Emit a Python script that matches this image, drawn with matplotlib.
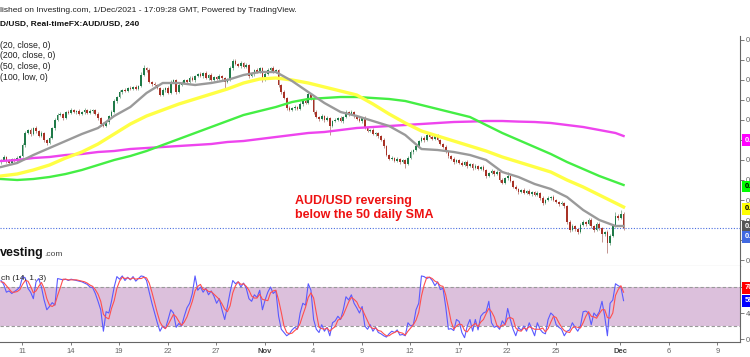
import matplotlib
matplotlib.use('Agg')
import matplotlib.pyplot as plt
import numpy as np
from matplotlib.transforms import blended_transform_factory

plt.rcParams['font.family'] = ['Liberation Sans', 'DejaVu Sans']

# AUD/USD 4h closes, 7 Oct - 1 Dec 2021
closes = [
    .7300, .7308, .7298, .7293, .7303, .7298, .7305, .7310, .7338, .7368,
    .7375, .7365, .7380, .7373, .7360, .7368, .7350, .7343, .7355, .7380,
    .7400, .7413, .7415, .7405, .7420, .7418, .7425, .7420, .7423, .7415,
    .7420, .7425, .7418, .7423, .7425, .7415, .7405, .7390, .7385, .7395,
    .7410, .7420, .7448, .7458, .7470, .7475, .7473, .7480, .7478, .7483,
    .7478, .7485, .7513, .7530, .7525, .7495, .7490, .7488, .7480, .7463,
    .7475, .7480, .7468, .7495, .7500, .7470, .7488, .7493, .7500, .7495,
    .7505, .7500, .7510, .7515, .7510, .7518, .7505, .7513, .7500, .7508,
    .7503, .7510, .7505, .7495, .7500, .7530, .7548, .7540, .7535, .7543,
    .7533, .7538, .7510, .7515, .7525, .7520, .7530, .7500, .7515, .7525,
    .7530, .7520, .7525, .7488, .7470, .7455, .7430, .7425, .7430, .7433,
    .7428, .7440, .7448, .7443, .7465, .7455, .7420, .7408, .7403, .7410,
    .7400, .7405, .7385, .7398, .7400, .7405, .7398, .7408, .7420, .7415,
    .7420, .7410, .7403, .7398, .7405, .7380, .7373, .7375, .7365, .7368,
    .7360, .7350, .7335, .7313, .7303, .7305, .7298, .7303, .7295, .7300,
    .7290, .7305, .7320, .7325, .7335, .7348, .7355, .7350, .7363, .7358,
    .7353, .7360, .7350, .7340, .7333, .7320, .7310, .7303, .7295, .7300,
    .7293, .7288, .7295, .7285, .7290, .7280, .7285, .7278, .7283, .7275,
    .7260, .7268, .7273, .7265, .7270, .7250, .7243, .7255, .7260, .7248,
    .7233, .7228, .7220, .7225, .7218, .7223, .7215, .7220, .7213, .7218,
    .7205, .7193, .7200, .7205, .7208, .7200, .7195, .7190, .7193, .7185,
    .7145, .7125, .7135, .7128, .7120, .7138, .7145, .7140, .7150, .7135,
    .7125, .7140, .7130, .7115, .7120, .7093, .7110, .7135, .7160, .7155,
    .7165, .7130,
]
first_open = 0.7295

# wick lengths above / below the body, in pips
up_wick = [
    3, 4, 2, 5, 3, 2, 4, 3, 5, 4,  3, 5, 2, 4, 3, 5, 3, 2, 4, 3,
    5, 4, 6, 3, 2, 4, 5, 3, 2, 4,  3, 5, 2, 4, 3, 2, 5, 3, 4, 2,
    3, 6, 4, 3, 5, 2, 4, 3, 5, 2,  4, 3, 6, 8, 2, 5, 3, 4, 3, 2,
    5, 3, 4, 6, 2, 3, 5, 4, 2, 3,  4, 5, 3, 2, 4, 3, 5, 2, 4, 3,
    2, 4, 3, 2, 5, 4, 5, 4, 2, 5,  3, 4, 2, 5, 3, 4, 2, 3, 5, 4,
    3, 4, 2, 3, 2, 4, 3, 5, 2, 4,  3, 5, 2, 6, 4, 3, 2, 4, 3, 5,
    2, 4, 3, 2, 5, 3, 4, 2, 5, 3,  4, 2, 3, 5, 2, 4, 3, 2, 4, 3,
    2, 3, 4, 2, 3, 5, 2, 4, 3, 2,  3, 4, 5, 2, 4, 3, 5, 4, 6, 3,
    4, 3, 5, 2, 3, 4, 2, 3, 5, 3,  2, 4, 3, 5, 2, 3, 4, 2, 3, 4,
    3, 2, 4, 3, 5, 2, 4, 3, 10, 2, 3, 4, 2, 3, 5, 2, 4, 3, 2, 4,
    3, 5, 2, 4, 3, 5, 2, 3, 4, 2,  3, 4, 6, 3, 2, 5, 4, 3, 6, 4,
    3, 5, 4, 2, 3, 4, 5, 6, 10, 5, 10, 4,
]
down_wick = [
    4, 3, 5, 2, 4, 3, 2, 4, 3, 5,  2, 4, 3, 5, 3, 2, 4, 5, 3, 2,
    4, 3, 2, 5, 3, 4, 2, 3, 5, 3,  2, 4, 3, 2, 5, 3, 4, 5, 3, 2,
    4, 3, 2, 5, 3, 4, 2, 3, 4, 3,  2, 4, 3, 2, 5, 3, 4, 3, 2, 4,
    3, 5, 2, 4, 3, 5, 3, 2, 4, 3,  2, 3, 4, 2, 3, 5, 2, 4, 3, 2,
    4, 3, 5, 15, 3, 2, 4, 3, 2, 4, 3, 2, 4, 3, 5, 2, 3, 4, 2, 3,
    4, 2, 3, 5, 4, 3, 5, 3, 2, 4,  3, 2, 4, 3, 2, 5, 4, 3, 5, 3,
    4, 3, 22, 3, 4, 2, 3, 5, 2, 4, 3, 4, 2, 3, 5, 3, 4, 2, 3, 5,
    4, 3, 5, 4, 3, 2, 4, 3, 5, 3,  10, 3, 2, 4, 3, 2, 3, 4, 2, 3,
    2, 4, 3, 2, 4, 3, 5, 3, 4, 2,  4, 3, 2, 5, 3, 4, 3, 2, 4, 3,
    4, 3, 2, 4, 3, 5, 3, 2, 4, 3,  3, 2, 4, 3, 2, 4, 3, 5, 2, 3,
    4, 6, 3, 2, 4, 3, 2, 4, 3, 5,  4, 6, 3, 5, 4, 3, 2, 4, 3, 5,
    4, 3, 5, 20, 4, 25, 5, 3, 2, 4, 3, 4,
]

# moving averages, one reading per day (every 6 bars) plus the last bar
ma_bars = list(range(0, 229, 6)) + [231]
sma20 = [.72825, .72925, .73125, .7330, .73475, .7365, .7380, .7410, .74325, .74675,
         .74925, .74925, .74875, .74925, .7500, .75125, .7520, .7520, .74975, .7470,
         .74425, .7420, .7410, .73975, .7385, .73625, .73275, .7325, .7320, .73125,
         .7300, .7270, .72575, .7240, .72275, .72075, .7175, .7150, .7135, .7135]
sma50 = [.7260, .7265, .7275, .72875, .7305, .7320, .7340, .7365, .7390, .7410,
         .7425, .7440, .74525, .7465, .74775, .74925, .75025, .7505, .7500, .74925,
         .74825, .74725, .74625, .7440, .7415, .73925, .73725, .7360, .73475, .7335,
         .73225, .73075, .7295, .72825, .7270, .7250, .72325, .72125, .71925, .71825]
sma100_low = [.72525, .7250, .72525, .72575, .7265, .7275, .72875, .7300, .7310, .73225,
              .73375, .73525, .73675, .73825, .73975, .74125, .74225, .74325, .7445, .74525,
              .7455, .74575, .74575, .7455, .74525, .74475, .74375, .74275, .74175, .74075,
              .73875, .73675, .7350, .73325, .7315, .7295, .72775, .7260, .7245, .72375]
sma200 = [.72975, .7300, .7305, .73075, .73125, .7315, .7320, .73225, .73275, .7330,
          .73325, .7335, .73375, .7340, .7345, .73475, .73525, .73575, .73625, .73675,
          .7370, .7375, .7380, .73825, .7385, .73875, .7390, .73925, .7395, .7396,
          .73975, .73975, .7396, .7395, .73925, .73875, .73825, .7375, .73675, .7360]

# stochastic (14, 1, 3)
stoch_k = [
    90, 84, 72, 74, 70, 73, 76, 80, 96, 94,  78, 72, 62, 88, 93, 80, 60, 45, 50, 56,
    52, 93, 92, 91, 92, 90, 92, 91, 90, 89,  88, 86, 84, 80, 79, 70, 58, 45, 12, 42,
    40, 58, 80, 96, 92, 97, 90, 95, 91, 96,  89, 93, 97, 96, 90, 72, 55, 40, 25, 12,
    20, 16, 30, 45, 40, 18, 24, 20, 35, 48,  55, 70, 97, 75, 80, 72, 78, 68, 74, 66,
    55, 62, 45, 30, 50, 72, 90, 85, 88, 80,  86, 78, 62, 58, 68, 64, 75, 45, 60, 72,
    80, 70, 74, 35, 15, 10, 5, 8, 14, 18,    15, 40, 55, 52, 85, 75, 30, 15, 10, 22,
    12, 18, 5, 25, 28, 35, 30, 45, 65, 60,   68, 55, 48, 40, 50, 20, 15, 22, 12, 18,
    10, 8, 5, 3, 8, 12, 10, 14, 6, 7,        5, 25, 20, 22, 45, 55, 97, 96, 93, 95,
    90, 82, 88, 76, 78, 50, 15, 16, 13, 30,  27, 10, 2, 20, 30, 12, 30, 14, 35, 40,
    42, 58, 25, 18, 20, 15, 28, 22, 47, 30,  15, 5, 18, 13, 20, 12, 25, 15, 5, 25,
    15, 10, 8, 30, 40, 36, 22, 18, 15, 5,    12, 14, 25, 18, 12, 20, 42, 43, 40, 22,
    40, 35, 42, 58, 35, 5, 55, 60, 85, 82,   80, 59,
]
stoch_d = [
    88, 87, 82, 77, 72, 72, 73, 76, 84, 90,  89, 81, 71, 74, 81, 87, 78, 62, 52, 50,
    53, 67, 79, 92, 92, 91, 91, 91, 91, 90,  89, 88, 86, 83, 81, 76, 69, 58, 38, 33,
    31, 47, 59, 78, 89, 95, 93, 94, 92, 94,  92, 93, 93, 95, 94, 86, 72, 56, 40, 26,
    19, 16, 22, 30, 38, 34, 27, 21, 26, 34,  46, 58, 74, 81, 84, 76, 77, 73, 73, 69,
    65, 61, 54, 46, 42, 51, 71, 82, 88, 84,  85, 81, 75, 66, 63, 63, 69, 61, 60, 59,
    71, 74, 75, 60, 41, 20, 10, 8, 9, 13,    16, 24, 37, 49, 64, 71, 63, 40, 18, 16,
    15, 17, 12, 16, 19, 29, 31, 37, 47, 57,  64, 61, 57, 48, 46, 37, 28, 19, 16, 17,
    13, 12, 8, 5, 5, 8, 10, 12, 10, 9,       6, 12, 17, 22, 29, 41, 66, 83, 95, 95,
    93, 89, 87, 82, 81, 68, 48, 27, 15, 20,  23, 22, 13, 11, 17, 21, 24, 19, 26, 30,
    39, 47, 42, 34, 21, 18, 21, 22, 32, 33,  31, 17, 13, 12, 17, 15, 19, 17, 15, 15,
    15, 17, 11, 16, 26, 35, 33, 25, 18, 13,  11, 10, 17, 19, 18, 17, 25, 35, 42, 35,
    34, 32, 39, 45, 45, 33, 32, 40, 67, 76,  82, 72,
]

# date axis: label text and trading-day number (11 Oct = 0)
day_labels = ['11', '14', '19', '22', '27', 'Nov', '4', '9', '12', '17', '22', '25', 'Dec', '6', '9']
day_numbers = [0, 3, 6, 9, 12, 15, 18, 21, 24, 27, 30, 33, 37, 40, 43]

# price scale labels (the ones hidden under tags are left blank)
price_ticks = [0.7050, 0.7100, 0.7150, 0.7200, 0.7250, 0.7300,
               0.7350, 0.7400, 0.7450, 0.7500, 0.7550, 0.7600]
price_tick_labels = ['0.7050', '', '0.7150', '0.7200', '0.7250', '0.7300',
                     '', '0.7400', '0.7450', '0.7500', '0.7550', '0.7600']

# price tags on the right scale
tag_levels = [0.7350, 0.72340, 0.71775, 0.71325, 0.71075]
tag_texts = ['0.7360', '0.7238', '0.7183', '0.7135', '0.7130']
tag_colors = ['#ff00ff', '#00ff00', '#ffff00', '#555555', '#4169e1']
tag_text_colors = ['white', 'black', 'black', 'white', 'white']
stoch_tag_levels = [78.5, 58.5]
stoch_tag_texts = ['70.00', '59.00']
stoch_tag_colors = ['#ff0000', '#0000ff']

W, H = 750, 357
fig = plt.figure(figsize=(W / 100, H / 100), dpi=100)
fig.patch.set_facecolor('white')

ax = fig.add_axes([0, 1 - 266 / H, 740 / W, 230 / H])
ax2 = fig.add_axes([0, 1 - 342 / H, 740 / W, 76 / H], sharex=ax)

# candles
closes = np.array(closes)
opens = np.concatenate([[first_open], closes[:-1]])
highs = np.maximum(opens, closes) + np.array(up_wick) * 1e-4
lows = np.minimum(opens, closes) - np.array(down_wick) * 1e-4
x = np.arange(len(closes))
rising = closes >= opens
body_col = np.where(rising, '#1f7a48', '#a83226')
wick_col = np.where(rising, '#8fb7a0', '#c29490')
ax.vlines(x, lows, highs, colors=wick_col, lw=0.7, zorder=2)
ax.bar(x, np.maximum(np.abs(closes - opens), 0.00008), bottom=np.minimum(opens, closes),
       width=0.62, color=body_col, linewidth=0, zorder=3)

# moving averages
ax.plot(ma_bars, sma200, color='#ee44ee', lw=1.7, zorder=4)
ax.plot(ma_bars, sma100_low, color='#44ee44', lw=1.7, zorder=4)
ax.plot(ma_bars, sma50, color='#ffff44', lw=2.4, zorder=4)
ax.plot(ma_bars, sma20, color='#9a9a9a', lw=1.7, zorder=5)

ax.axhline(closes[-1], color='#4a6ee0', ls=(0, (1, 1.5)), lw=0.8, zorder=1)

ax.set_xlim(-0.37, 274.2)
ax.set_ylim(0.7035, 0.7610)
ax.set_yticks(price_ticks)
ax.set_yticklabels(price_tick_labels)
ax.yaxis.tick_right()
ax.tick_params(axis='y', length=3, width=0.6, colors='#666666', labelsize=5.5, pad=1.5)
ax.tick_params(axis='x', bottom=False, labelbottom=False)
for s in ['top', 'left']:
    ax.spines[s].set_visible(False)
ax.spines['right'].set_color('#666666')
ax.spines['bottom'].set_color('#999999')
ax.spines['right'].set_linewidth(0.8)
ax.spines['bottom'].set_linewidth(0.8)

tr = blended_transform_factory(ax.transAxes, ax.transData)
for lv, tx, bg, fg in zip(tag_levels, tag_texts, tag_colors, tag_text_colors):
    ax.text(1.006, lv, tx, transform=tr, fontsize=5.5, fontweight='bold', color=fg, va='center',
            bbox=dict(boxstyle='square,pad=0.3', fc=bg, ec='none'))

# stochastic panel
ax2.axhspan(20, 80, color='#dcc0dc', lw=0, zorder=0)
ax2.axhline(80, color='#999999', lw=0.8, ls=(0, (3, 2)))
ax2.axhline(20, color='#999999', lw=0.8, ls=(0, (3, 2)))
ax2.plot(x, stoch_k, color='#5a5aff', lw=0.8, zorder=3)
ax2.plot(x, stoch_d, color='#ff4f4f', lw=0.8, zorder=3)
ax2.set_ylim(-4.6, 112.3)
ax2.set_yticks([0, 40, 80])
ax2.set_yticklabels(['0.00', '40.00', ''])
ax2.yaxis.tick_right()
ax2.tick_params(axis='y', length=3, width=0.6, colors='#666666', labelsize=5.5, pad=1.5)
tick_pos = [7.8 + 6 * d for d in day_numbers]
ax2.set_xticks(tick_pos)
ax2.set_xticklabels(day_labels)
ax2.tick_params(axis='x', length=2, width=0.6, colors='#666666', labelsize=5.5, pad=2)
for lab in ax2.get_xticklabels():
    if lab.get_text() in ('Nov', 'Dec'):
        lab.set_fontweight('bold')
        lab.set_color('#444444')
for s in ['top', 'left']:
    ax2.spines[s].set_visible(False)
for s in ['right', 'bottom']:
    ax2.spines[s].set_color('#666666')
    ax2.spines[s].set_linewidth(0.8)
ax2.set_xlim(-0.37, 274.2)

tr2 = blended_transform_factory(ax2.transAxes, ax2.transData)
for lv, tx, bg in zip(stoch_tag_levels, stoch_tag_texts, stoch_tag_colors):
    ax2.text(1.006, lv, tx, transform=tr2, fontsize=5.5, fontweight='bold', color='white', va='center',
             bbox=dict(boxstyle='square,pad=0.3', fc=bg, ec='none'))

ax2.text(0.002, 0.83, 'ch (14, 1, 3)', transform=ax2.transAxes,
         fontsize=6, color='#222222', va='center')

# header texts
fig.text(0, 1 - 10 / H, 'lished on Investing.com, 1/Dec/2021 - 17:09:28 GMT, Powered by TradingView.',
         fontsize=6, color='#222222', va='center')
fig.text(0, 1 - 24 / H, 'D/USD, Real-timeFX:AUD/USD, 240', fontsize=6, fontweight='bold',
         color='#111111', va='center')
for k, s in enumerate(['(20, close, 0)', '(200, close, 0)', '(50, close, 0)', '(100, low, 0)']):
    fig.text(0, 1 - (45 + 10.8 * k) / H, s, fontsize=6.3, color='#222222', va='center')

fig.text(295 / W, 1 - 208 / H, 'AUD/USD reversing\nbelow the 50 daily SMA', fontsize=9,
         fontweight='bold', color='#ee1111', va='center', linespacing=1.15)

fig.text(0, 1 - 253 / H, 'vesting', fontsize=9, fontweight='bold', color='#111111', va='center')
fig.text(44 / W, 1 - 254 / H, '.com', fontsize=6, color='#444444', va='center')

fig.savefig('out.png', dpi=100)
